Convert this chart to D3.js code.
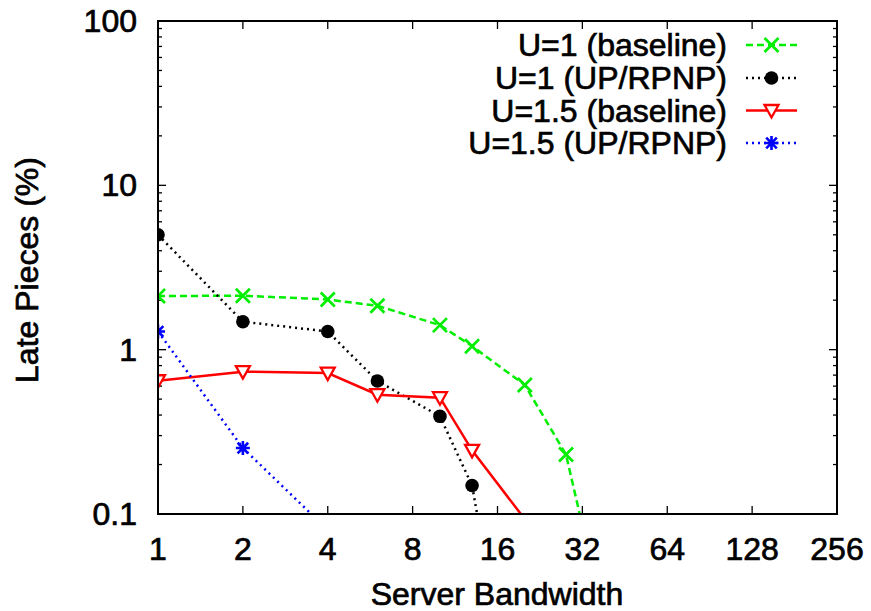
<!DOCTYPE html>
<html>
<head>
<meta charset="utf-8">
<script src="https://cdn.jsdelivr.net/npm/d3@7"></script>
<style>
  html, body { margin: 0; padding: 0; background: #fff; }
  svg text { font-family: "Liberation Sans", Arial, Helvetica, sans-serif; fill: #000; stroke: #000; stroke-width: 0.7px; }
</style>
</head>
<body>
<svg id="chart" width="871" height="611"></svg>
<script>
// Server bandwidth values (x) and late-piece percentages for each run
const bwBaseU1   = [1, 2, 4, 6, 10, 13, 20, 28, 32];
const lateBaseU1 = [2.12, 2.13, 2.02, 1.85, 1.41, 1.05, 0.61, 0.23, 0.085];

const bwUpU1     = [1, 2, 4, 6, 10, 13, 16];
const lateUpU1   = [5.0, 1.48, 1.29, 0.645, 0.393, 0.149, 0.02];

const bwBaseU15   = [1, 2, 4, 6, 10, 13, 20];
const lateBaseU15 = [0.647, 0.735, 0.72, 0.532, 0.51, 0.244, 0.093];

const bwUpU15    = [1, 2, 4];
const lateUpU15  = [1.29, 0.252, 0.08];

const seriesNames = ["U=1 (baseline)", "U=1 (UP/RPNP)", "U=1.5 (baseline)", "U=1.5 (UP/RPNP)"];
const xTickValues = [1, 2, 4, 8, 16, 32, 64, 128, 256];
const yTickValues = [0.1, 1, 10, 100];
const yTickLabels = ["0.1", "1", "10", "100"];

const series = [
  { name: seriesNames[0], x: bwBaseU1,  y: lateBaseU1,  color: "#00ee00", dash: "7,4",  marker: "cross" },
  { name: seriesNames[1], x: bwUpU1,    y: lateUpU1,    color: "#000000", dash: "2,4",  marker: "circle" },
  { name: seriesNames[2], x: bwBaseU15, y: lateBaseU15, color: "#ff0000", dash: null,   marker: "triangle" },
  { name: seriesNames[3], x: bwUpU15,   y: lateUpU15,   color: "#0000ff", dash: "2,4",  marker: "star" }
];

const svg = d3.select("#chart");
const L = 158, R = 837, T = 21, B = 514;

const x = d3.scaleLog().base(2).domain([1, 256]).range([L, R]);
const y = d3.scaleLog().domain([0.1, 100]).range([B, T]);

svg.append("defs").append("clipPath").attr("id", "plotClip")
  .append("rect").attr("x", L).attr("y", T).attr("width", R - L).attr("height", B - T);

// Minor y ticks (2..9 in each decade)
const minorY = [];
[0.1, 1, 10].forEach(d => { for (let k = 2; k <= 9; k++) minorY.push(d * k); });

const tickG = svg.append("g").attr("stroke", "#000").attr("stroke-width", 1.3);
minorY.forEach(v => {
  tickG.append("line").attr("x1", L).attr("x2", L + 4).attr("y1", y(v)).attr("y2", y(v));
  tickG.append("line").attr("x1", R).attr("x2", R - 4).attr("y1", y(v)).attr("y2", y(v));
});
yTickValues.forEach(v => {
  tickG.append("line").attr("x1", L).attr("x2", L + 8).attr("y1", y(v)).attr("y2", y(v));
  tickG.append("line").attr("x1", R).attr("x2", R - 8).attr("y1", y(v)).attr("y2", y(v));
});
xTickValues.forEach(v => {
  tickG.append("line").attr("x1", x(v)).attr("x2", x(v)).attr("y1", B).attr("y2", B - 8);
  tickG.append("line").attr("x1", x(v)).attr("x2", x(v)).attr("y1", T).attr("y2", T + 8);
});

// Tick labels
svg.append("g").selectAll("text").data(yTickValues).join("text")
  .attr("x", 137).attr("y", d => y(d))
  .attr("text-anchor", "end").attr("dominant-baseline", "central")
  .attr("font-size", 32)
  .text((d, i) => yTickLabels[i]);

svg.append("g").selectAll("text").data(xTickValues).join("text")
  .attr("x", d => x(d)).attr("y", 560)
  .attr("text-anchor", "middle")
  .attr("font-size", 32)
  .text(d => String(d));

// Axis titles
svg.append("text").attr("x", 497).attr("y", 605)
  .attr("text-anchor", "middle").attr("font-size", 32)
  .text("Server Bandwidth");
svg.append("text")
  .attr("transform", "translate(38,270) rotate(-90)")
  .attr("text-anchor", "middle").attr("font-size", 32)
  .text("Late Pieces (%)");

// Marker drawing
function drawMarker(g, cx, cy, s) {
  const m = s.marker, c = s.color;
  if (m === "cross") {
    g.append("path").attr("d", `M${cx-7},${cy-7}L${cx+7},${cy+7}M${cx-7},${cy+7}L${cx+7},${cy-7}`)
      .attr("stroke", c).attr("stroke-width", 2.7).attr("fill", "none");
  } else if (m === "circle") {
    g.append("circle").attr("cx", cx).attr("cy", cy).attr("r", 6.8).attr("fill", c);
  } else if (m === "triangle") {
    g.append("path").attr("d", `M${cx-7},${cy-5.5}L${cx+7},${cy-5.5}L${cx},${cy+7}Z`)
      .attr("stroke", c).attr("stroke-width", 2.3).attr("fill", "#fff");
  } else if (m === "star") {
    g.append("path").attr("d",
      `M${cx-7},${cy}L${cx+7},${cy}M${cx},${cy-7}L${cx},${cy+7}` +
      `M${cx-5.3},${cy-5.3}L${cx+5.3},${cy+5.3}M${cx-5.3},${cy+5.3}L${cx+5.3},${cy-5.3}`)
      .attr("stroke", c).attr("stroke-width", 2.6).attr("fill", "none");
  }
}

const plotG = svg.append("g").attr("clip-path", "url(#plotClip)");
const line = d3.line().x(d => x(d[0])).y(d => y(d[1]));

series.forEach(s => {
  const pts = s.x.map((v, i) => [v, s.y[i]]);
  plotG.append("path").datum(pts).attr("d", line)
    .attr("fill", "none").attr("stroke", s.color).attr("stroke-width", 2.5)
    .attr("stroke-dasharray", s.dash);
});
series.forEach(s => {
  const mg = plotG.append("g");
  s.x.forEach((v, i) => {
    if (s.y[i] >= 0.1) drawMarker(mg, x(v), y(s.y[i]), s);
  });
});

// Legend
const legendRows = [45, 78, 110.5, 143];
const legG = svg.append("g");
series.forEach((s, i) => {
  const ry = legendRows[i];
  legG.append("text").attr("x", 727).attr("y", ry)
    .attr("text-anchor", "end").attr("dominant-baseline", "central")
    .attr("font-size", 32).text(s.name);
  legG.append("line").attr("x1", 746).attr("x2", 797).attr("y1", ry).attr("y2", ry)
    .attr("stroke", s.color).attr("stroke-width", 2.5).attr("stroke-dasharray", s.dash);
  drawMarker(legG, 771.5, ry, s);
});

// Frame
svg.append("rect").attr("x", L).attr("y", T).attr("width", R - L).attr("height", B - T)
  .attr("fill", "none").attr("stroke", "#000").attr("stroke-width", 2);
</script>
</body>
</html>
